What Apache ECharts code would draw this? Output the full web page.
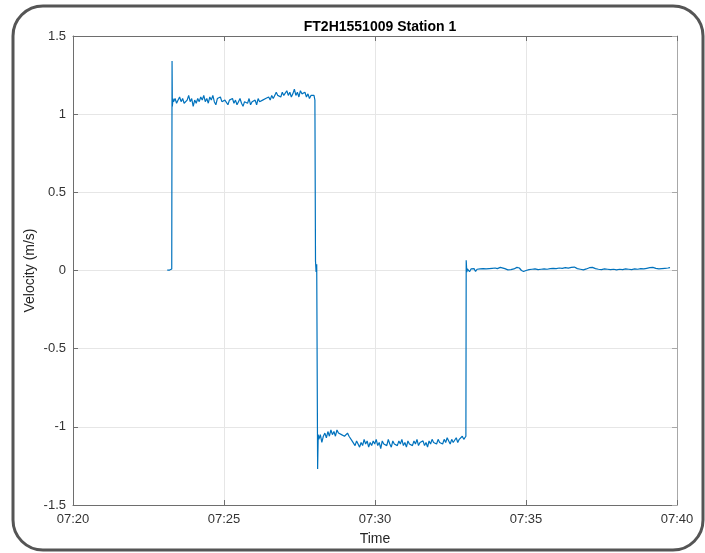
<!DOCTYPE html>
<html>
<head>
<meta charset="utf-8">
<script src="https://cdn.jsdelivr.net/npm/echarts@6/dist/echarts.min.js"></script>
<style>
html,body{margin:0;padding:0;background:#fff;}
#chart{width:705px;height:553px;}
</style>
</head>
<body>
<div id="chart"></div>
<script>
// Time in minutes after 07:20, velocity in m/s
const xTickLabels = ['07:20', '07:25', '07:30', '07:35', '07:40'];
const yTickValues = [-1.5, -1, -0.5, 0, 0.5, 1, 1.5];

const idleStart = [[3.12,0.002],[3.16,-0.004],[3.20,0.003],[3.23,0.0],[3.25,0.006],[3.27,0.01],[3.28,1.34],[3.29,1.05],[3.31,1.10]];

const forwardRun = [
[3.33,1.08],[3.38,1.10],[3.43,1.07],[3.48,1.09],[3.53,1.11],[3.58,1.08],[3.63,1.10],[3.68,1.07],[3.73,1.06],[3.78,1.09],
[3.83,1.12],[3.88,1.08],[3.93,1.10],[3.98,1.05],[4.03,1.09],[4.08,1.07],[4.13,1.10],[4.18,1.08],[4.23,1.11],[4.28,1.09],
[4.33,1.12],[4.38,1.08],[4.43,1.10],[4.48,1.07],[4.53,1.11],[4.58,1.09],[4.63,1.12],[4.68,1.08],[4.73,1.06],[4.78,1.10],
[4.83,1.09],[4.88,1.11],[4.93,1.08],[4.98,1.07],[5.03,1.09],[5.08,1.08],[5.13,1.06],[5.18,1.09],[5.23,1.08],[5.28,1.10],
[5.33,1.07],[5.38,1.09],[5.43,1.06],[5.48,1.08],[5.53,1.10],[5.58,1.07],[5.63,1.05],[5.68,1.08],[5.73,1.09],[5.78,1.07],
[5.83,1.10],[5.88,1.06],[5.93,1.08],[5.98,1.07],[6.03,1.09],[6.08,1.06],[6.13,1.10],[6.18,1.08],[6.23,1.07],[6.28,1.09],
[6.33,1.08],[6.38,1.10],[6.43,1.09],[6.48,1.11],[6.53,1.09],[6.58,1.12],[6.63,1.10],[6.68,1.12],[6.73,1.14],[6.78,1.12],
[6.83,1.13],[6.88,1.11],[6.93,1.14],[6.98,1.12],[7.03,1.13],[7.08,1.15],[7.13,1.12],[7.18,1.14],[7.23,1.11],[7.28,1.13],
[7.33,1.16],[7.38,1.12],[7.43,1.14],[7.48,1.11],[7.53,1.15],[7.58,1.13],[7.63,1.12],[7.68,1.14],[7.73,1.11],[7.78,1.13],
[7.83,1.10],[7.88,1.12],[7.93,1.11],[7.98,1.12]
];

const reversal = [[8.00,1.11],[8.01,1.09],[8.03,0.06],[8.05,-0.01],[8.07,0.04],[8.10,-1.27],[8.12,-1.05]];

const reverseRun = [
[8.14,-1.08],[8.19,-1.05],[8.24,-1.10],[8.29,-1.06],[8.34,-1.04],[8.39,-1.07],[8.44,-1.03],[8.49,-1.06],[8.54,-1.02],[8.59,-1.05],
[8.64,-1.03],[8.69,-1.06],[8.74,-1.02],[8.79,-1.04],[8.84,-1.03],[8.89,-1.05],[8.94,-1.04],[8.99,-1.06],[9.04,-1.05],[9.09,-1.04],
[9.14,-1.06],[9.19,-1.07],[9.24,-1.09],[9.29,-1.10],[9.34,-1.12],[9.39,-1.09],[9.44,-1.11],[9.49,-1.13],[9.54,-1.10],[9.59,-1.12],
[9.64,-1.08],[9.69,-1.11],[9.74,-1.09],[9.79,-1.13],[9.84,-1.10],[9.89,-1.12],[9.94,-1.09],[9.99,-1.11],[10.04,-1.08],[10.09,-1.12],
[10.14,-1.10],[10.19,-1.14],[10.24,-1.09],[10.29,-1.11],[10.34,-1.10],[10.39,-1.12],[10.44,-1.08],[10.49,-1.11],[10.54,-1.13],[10.59,-1.09],
[10.64,-1.11],[10.69,-1.10],[10.74,-1.12],[10.79,-1.09],[10.84,-1.11],[10.89,-1.08],[10.94,-1.12],[10.99,-1.10],[11.04,-1.13],[11.09,-1.09],
[11.14,-1.11],[11.19,-1.10],[11.24,-1.12],[11.29,-1.09],[11.34,-1.11],[11.39,-1.08],[11.44,-1.12],[11.49,-1.10],[11.54,-1.11],[11.59,-1.09],
[11.64,-1.12],[11.69,-1.10],[11.74,-1.13],[11.79,-1.09],[11.84,-1.11],[11.89,-1.08],[11.94,-1.10],[11.99,-1.09],[12.04,-1.11],[12.09,-1.08],
[12.14,-1.10],[12.19,-1.09],[12.24,-1.11],[12.29,-1.08],[12.34,-1.10],[12.39,-1.07],[12.44,-1.09],[12.49,-1.11],[12.54,-1.08],[12.59,-1.10],
[12.64,-1.09],[12.69,-1.07],[12.74,-1.10],[12.79,-1.08],[12.84,-1.09],[12.89,-1.06],[12.94,-1.08],[12.99,-1.07]
];

const stopEvent = [[13.01,-1.06],[13.02,0.065],[13.04,-0.01],[13.06,0.01]];

const idleEnd = [
[13.08,0.005],[13.13,-0.008],[13.18,0.01],[13.23,0.0],[13.28,0.012],[13.33,-0.006],[13.38,0.008],[13.43,-0.004],[13.48,0.01],[13.53,0.002],
[13.58,0.012],[13.63,0.006],[13.68,0.01],[13.73,0.004],[13.78,0.012],[13.83,0.008],[13.88,0.014],[13.93,0.01],[13.98,0.016],[14.05,0.012],
[14.15,0.02],[14.20,0.022],[14.30,0.012],[14.40,0.004],[14.50,0.006],[14.60,0.01],[14.70,0.02],[14.78,0.016],[14.85,0.0],[14.92,-0.006],
[15.00,0.0],[15.10,0.006],[15.20,0.008],[15.30,0.01],[15.40,0.006],[15.50,0.008],[15.60,0.01],[15.70,0.008],[15.80,0.012],[15.90,0.014],
[16.00,0.012],[16.10,0.016],[16.20,0.014],[16.30,0.018],[16.40,0.015],[16.50,0.02],[16.60,0.022],[16.70,0.012],[16.80,0.008],[16.90,0.004],
[17.00,0.01],[17.10,0.018],[17.20,0.02],[17.30,0.012],[17.40,0.008],[17.50,0.006],[17.60,0.01],[17.70,0.008],[17.80,0.006],[17.90,0.008],
[18.00,0.004],[18.10,0.008],[18.20,0.006],[18.30,0.01],[18.40,0.008],[18.50,0.006],[18.60,0.01],[18.70,0.008],[18.80,0.012],[18.90,0.01],
[19.00,0.014],[19.10,0.018],[19.20,0.02],[19.30,0.014],[19.40,0.01],[19.50,0.012],[19.60,0.014],[19.70,0.016],[19.77,0.018]
];

const velocitySeries = [].concat(idleStart, forwardRun, reversal, reverseRun, stopEvent, idleEnd);

const chart = echarts.init(document.getElementById('chart'), null, {renderer: 'canvas'});
const fontFam = '"Liberation Sans", Arial, Helvetica, sans-serif';
const axisDark = '#6e6e6e';
const axisLight = '#a8a8a8';
const gridColor = '#e6e6e6';

function fmtX(v) {
  const idx = Math.round(v / 5);
  return xTickLabels[idx] !== undefined ? xTickLabels[idx] : '';
}

chart.setOption({
  animation: false,
  backgroundColor: '#fff',
  title: {
    text: 'FT2H1551009 Station 1',
    left: 375,
    top: 15,
    textAlign: 'center',
    textStyle: {fontFamily: fontFam, fontSize: 14, fontWeight: 'bold', color: '#000'}
  },
  grid: {left: 73, right: 28, top: 36, bottom: 48},
  xAxis: [{
    type: 'value', min: 0, max: 20, interval: 5,
    name: 'Time', nameLocation: 'middle', nameGap: 27, nameMoveOverlap: false,
    nameTextStyle: {fontFamily: fontFam, fontSize: 14, color: '#262626'},
    axisLine: {show: true, onZero: false, lineStyle: {color: axisDark, width: 1}},
    axisTick: {show: true, inside: true, length: 5, lineStyle: {color: axisDark}},
    axisLabel: {formatter: fmtX, margin: 8, fontFamily: fontFam, fontSize: 13, color: '#333'},
    splitLine: {show: true, lineStyle: {color: gridColor, width: 1}}
  }, {
    type: 'value', min: 0, max: 20, interval: 5, position: 'top',
    axisLine: {show: true, onZero: false, lineStyle: {color: axisDark, width: 1}},
    axisTick: {show: true, inside: true, length: 5, lineStyle: {color: axisDark}},
    axisLabel: {show: false},
    splitLine: {show: false}
  }],
  yAxis: [{
    type: 'value', min: yTickValues[0], max: yTickValues[yTickValues.length - 1], interval: 0.5,
    name: 'Velocity (m/s)', nameLocation: 'middle', nameGap: 36, nameMoveOverlap: false,
    nameTextStyle: {fontFamily: fontFam, fontSize: 14, color: '#262626'},
    axisLine: {show: true, onZero: false, lineStyle: {color: axisDark, width: 1}},
    axisTick: {show: true, inside: true, length: 5, lineStyle: {color: axisDark}},
    axisLabel: {margin: 7, fontFamily: fontFam, fontSize: 13, color: '#333'},
    splitLine: {show: true, lineStyle: {color: gridColor, width: 1}}
  }, {
    type: 'value', min: yTickValues[0], max: yTickValues[yTickValues.length - 1], interval: 0.5, position: 'right',
    axisLine: {show: true, onZero: false, lineStyle: {color: axisLight, width: 1}},
    axisTick: {show: true, inside: true, length: 5, lineStyle: {color: axisLight}},
    axisLabel: {show: false},
    splitLine: {show: false}
  }],
  graphic: [{
    type: 'rect',
    shape: {x: 13, y: 6, width: 690, height: 544, r: 30},
    style: {fill: 'none', stroke: '#555', lineWidth: 3},
    silent: true,
    z: 100
  }],
  series: [{
    type: 'line',
    data: velocitySeries,
    xAxisIndex: 0,
    yAxisIndex: 0,
    showSymbol: false,
    symbol: 'none',
    lineStyle: {color: '#0072BD', width: 1.2},
    itemStyle: {color: '#0072BD'}
  }]
});
</script>
</body>
</html>
